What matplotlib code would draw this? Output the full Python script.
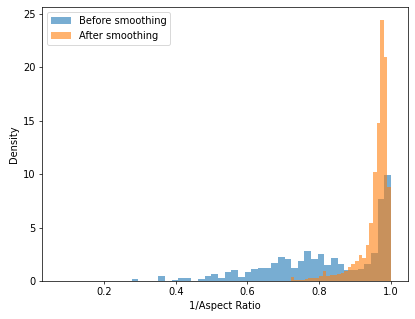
import numpy as np
import matplotlib
matplotlib.use("Agg")
import matplotlib.pyplot as plt

plt.rcParams['font.size'] = 11

# Bin edges (blue: ~0.0186 wide, orange: ~0.01 wide)
before_edges = np.linspace(0.073, 1.0, 51)
after_edges = np.linspace(0.5, 1.0, 51)

# Bar heights (density)
before_density = [
    0.05, 0, 0, 0, 0, 0, 0, 0, 0, 0,
    0, 0.16, 0, 0, 0.05, 0.45, 0, 0.12, 0.25, 0.25,
    0.05, 0.16, 0.45, 0.65, 0.25, 0.81, 1.06, 0.35, 0.81, 1.09,
    1.18, 1.24, 1.71, 2.21, 2.08, 1.21, 1.84, 2.77, 2.02, 2.55,
    1.47, 2.18, 1.56, 1.03, 1.03, 1.12, 1.56, 2.64, 7.66, 9.9,
]
after_density = [
    0, 0, 0, 0, 0, 0, 0, 0, 0, 0,
    0, 0, 0, 0, 0, 0, 0, 0, 0, 0,
    0, 0, 0.4, 0.1, 0.1, 0.1, 0.2, 0.25, 0.25, 0.3,
    0.5, 0.9, 0.5, 0.6, 0.6, 0.7, 0.75, 0.9, 1.3, 1.6,
    1.9, 2.4, 2.2, 3.4, 5.4, 10.2, 14.8, 24.37, 20.9, 8.75,
]

fig = plt.figure(figsize=(415 / 65, 319 / 65), dpi=65)
ax = fig.add_axes([0.101, 0.119, 0.881, 0.858])

ax.hist(before_edges[:-1], bins=before_edges, weights=before_density,
        alpha=0.6, label='Before smoothing')
ax.hist(after_edges[:-1], bins=after_edges, weights=after_density,
        alpha=0.6, label='After smoothing')

ax.set_xlabel('1/Aspect Ratio')
ax.set_ylabel('Density')
ax.legend(loc='upper left')

fig.savefig('out.png', dpi=65)
